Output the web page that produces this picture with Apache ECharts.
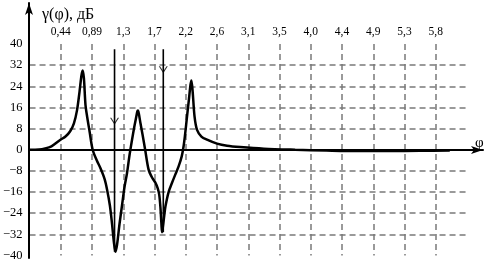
<!DOCTYPE html>
<html>
<head>
<meta charset="utf-8">
<script src="https://cdn.jsdelivr.net/npm/echarts@6/dist/echarts.min.js"></script>
<style>html,body{margin:0;padding:0;background:#fff}#c{width:488px;height:262px}</style>
</head>
<body>
<div id="c"></div>
<script>
// ---- data ----
const xTickLabels = ['0,44','0,89','1,3','1,7','2,2','2,6','3,1','3,5','4,0','4,4','4,9','5,3','5,8'];
const yMin = -40, yMax = 40, yStep = 8;
// curve: x in tick-index units (1 unit = one labelled step), y in dB
const curveX = [0,0.3,0.5,0.7,0.99,1.15,1.3,1.42,1.52,1.6,1.66,1.7,1.74,1.79,1.85,1.92,2.02,2.15,2.27,2.4,2.48,2.57,2.64,2.7,2.75,2.8,2.88,2.96,3.04,3.12,3.2,3.28,3.35,3.4,3.45,3.47,3.5,3.55,3.62,3.7,3.81,3.92,4.03,4.1,4.15,4.19,4.22,4.24,4.27,4.31,4.35,4.45,4.56,4.66,4.77,4.87,4.93,4.98,5.04,5.1,5.15,5.18,5.22,5.28,5.36,5.5,5.68,6.0,6.32,6.74,7.5,8.5,9.5,10.5,11.5,12.5,13.45];
const curveY = [0,0.1,0.5,1.3,3.8,5.0,7.0,10,15,22,28,30,27,17,12,7,0,-4,-7,-11,-15,-21,-28,-35,-38.6,-36,-28,-21,-14,-8.8,-2,3.8,8.5,11.5,14.5,14.8,13.5,10,5.5,0,-7.5,-10.5,-12.5,-14.5,-17,-22,-28,-31.2,-29,-25,-21.4,-16,-12.5,-9.5,-6.3,-2.5,1.3,6,12.6,19,24.5,26.2,22,12.6,7.5,5,3.8,2.3,1.5,1.0,0.4,0,-0.3,-0.5,-0.5,-0.4,-0.3];
// vertical marker arrows
const markerX = [2.72, 4.28];
const markerTop = [38, 38];
const markerBottom = [-38.6, -31.2];
const markerHead = [10, 29.5];

// ---- chart ----
const font = 'Liberation Serif';
const chart = echarts.init(document.getElementById('c'));
const dashed = {show:true, showMinLine:false, showMaxLine:false, lineStyle:{color:'#7a7a7a', width:1.5, type:[6,4]}};

const series = [];
series.push({
  type:'line', xAxisIndex:0, yAxisIndex:0, data: curveX.map((x,i)=>[x, curveY[i]]),
  showSymbol:false, smooth:0.3, lineStyle:{color:'#000', width:2.5}, z:5
});
markerX.forEach((x,i)=>{
  series.push({type:'line', xAxisIndex:0, yAxisIndex:0, data:[[x, markerTop[i]],[x, markerBottom[i]]],
    showSymbol:false, lineStyle:{color:'#000', width:1.6}, z:4});
});
series.push({type:'scatter', xAxisIndex:0, yAxisIndex:0,
  data: markerX.map((x,i)=>[x, markerHead[i]]),
  symbol:'path://M0,0 L5,8 L10,0 L8.6,0 L5,5.6 L1.4,0 Z', symbolSize:[9,7], symbolOffset:[0,-2],
  itemStyle:{color:'#000'}, z:6});

chart.setOption({
  animation:false,
  title:[
    {text:'γ(φ), дБ', left:37, top:2, textStyle:{fontFamily:font, fontSize:16, fontWeight:'normal', color:'#000'}},
    {text:'φ', left:470, top:131, textStyle:{fontFamily:font, fontSize:15, fontWeight:'normal', color:'#000'}}
  ],
  grid:[
    {left:29, right:21, top:44, bottom:6},
    {left:29, right:5, top:3, bottom:4}
  ],
  xAxis:[
    {gridIndex:0, type:'value', position:'top', min:0, max:xTickLabels.length+1, interval:1,
     axisLine:{show:false}, axisTick:{show:false},
     axisLabel:{margin:6, fontFamily:font, fontSize:11.5, color:'#000',
       formatter:v=> xTickLabels[v-1] || ''},
     splitLine:dashed},
    {gridIndex:1, type:'value', min:0, max:14.51,
     axisLine:{show:true, onZero:true, symbol:['none','arrow'], symbolSize:[6,12], lineStyle:{color:'#000', width:2}},
     axisTick:{show:false}, axisLabel:{show:false}, splitLine:{show:false}}
  ],
  yAxis:[
    {gridIndex:0, type:'value', min:yMin, max:yMax, interval:yStep,
     axisLine:{show:false}, axisTick:{show:false},
     axisLabel:{margin:7, fontFamily:font, fontSize:12.5, color:'#000',
       formatter:v=> String(v).replace('-', '\u2212')},
     splitLine:dashed},
    {gridIndex:1, type:'value', min:-40.75, max:55.47,
     axisLine:{show:true, onZero:true, symbol:['none','arrow'], symbolSize:[6,12], lineStyle:{color:'#000', width:2}},
     axisTick:{show:false}, axisLabel:{show:false}, splitLine:{show:false}}
  ],
  series: series
});
</script>
</body>
</html>
